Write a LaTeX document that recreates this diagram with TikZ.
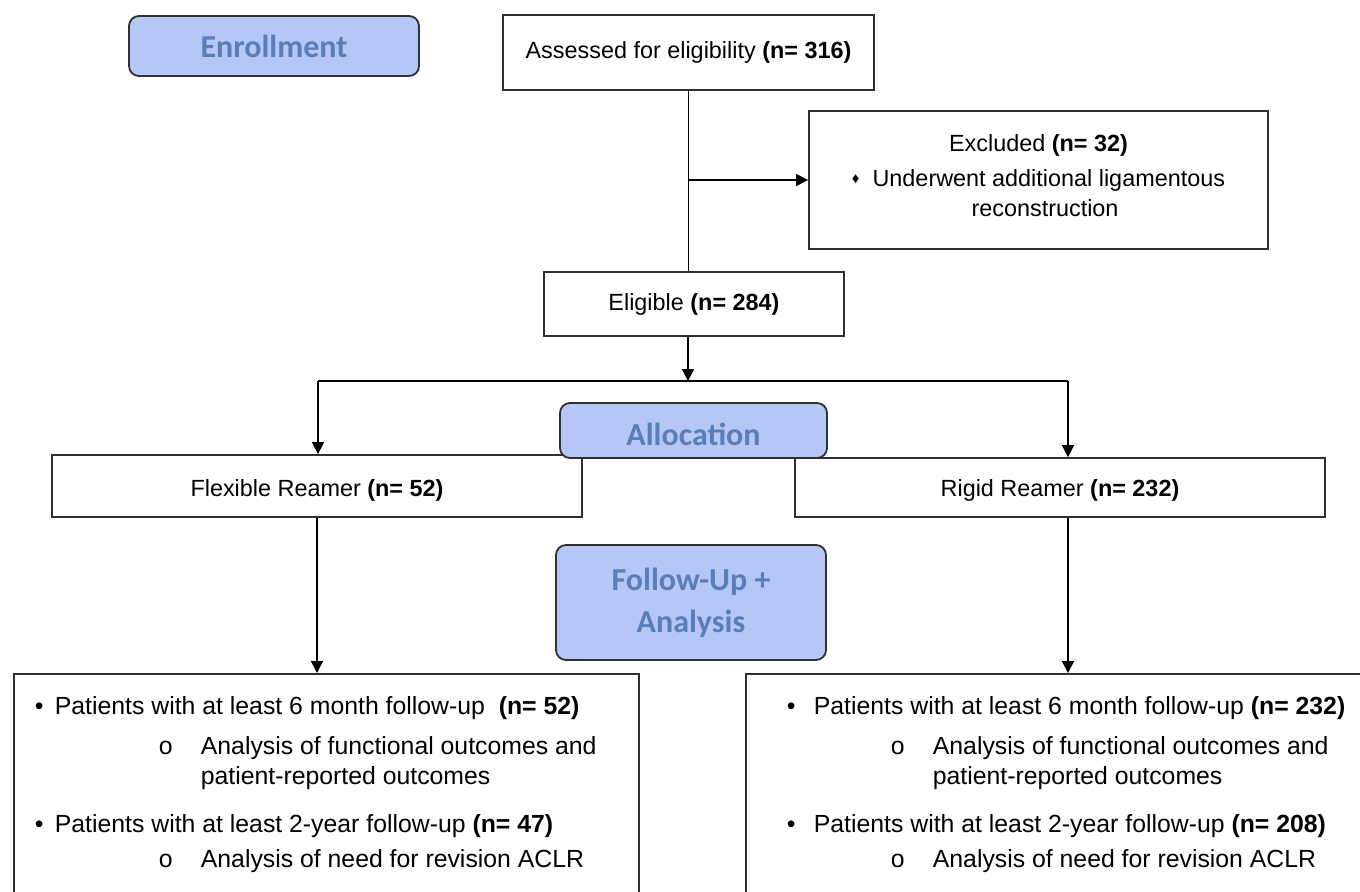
\documentclass[tikz,border=0pt]{standalone}
\usepackage{fontspec}
\setmainfont{Liberation Sans}
\newfontfamily\headfont{Carlito}
\usetikzlibrary{arrows.meta}
\definecolor{phasefill}{HTML}{B4C7F7}
\definecolor{phasetext}{HTML}{5B7DB8}
\definecolor{edgegray}{HTML}{303030}

\begin{document}
\begin{tikzpicture}
[
    x=0.5pt, y=-0.5pt,
    box/.style={draw=edgegray, line width=0.9pt, inner sep=0pt, align=center, font=\fontsize{11.7}{15}\selectfont},
    phase/.style={draw=edgegray, line width=0.9pt, rounded corners=5pt, fill=phasefill, text=phasetext, inner sep=0pt, align=center, font=\headfont\bfseries\fontsize{16}{21}\selectfont},
    fubox/.style={draw=edgegray, line width=0.9pt, inner sep=0pt, anchor=north west, font=\fontsize{12.4}{15}\selectfont},
    link/.style={line width=0.75pt},
    flowarrow/.style={line width=0.75pt, -{Triangle[length=6pt, width=6pt]}},
]
\useasboundingbox[fill=white] (0,0) rectangle (1360,891);

% enrollment
\node [phase, minimum width=145pt, minimum height=30pt] (enroll) at (274,46) {Enrollment};
\node [box, minimum width=185.5pt, minimum height=37.5pt] (assess) at (688.5,52.5)
{Assessed for eligibility \textbf{(n= 316)}};
\node [box, minimum width=229.5pt, minimum height=69pt] (excl) at (1038.5,180)
{\parbox{225pt}{\centering Excluded \textbf{(n= 32)}\\[2.5pt]
{\fontsize{7.5}{7.5}\selectfont\raisebox{1.5pt}{♦}}\ \ Underwent additional ligamentous\\
\ \ reconstruction\par\vspace{4pt}}};
\node [box, minimum width=150pt, minimum height=32pt] (elig) at (694,304)
{Eligible \textbf{(n= 284)}};

% allocation
\node [box, minimum width=265pt, minimum height=31pt] (flex) at (317,486)
{\raisebox{-2pt}[\height][\depth]{Flexible Reamer \textbf{(n= 52)}}};
\node [box, minimum width=265pt, minimum height=29.5pt] (rigid) at (1060,487.5)
{\raisebox{-1.5pt}[\height][\depth]{Rigid Reamer \textbf{(n= 232)}}};
\node [phase, minimum width=133.5pt, minimum height=27.5pt] (alloc) at (693.5,430.5)
{\raisebox{-2pt}[\height][\depth]{Allocation}};

% follow-up
\node [phase, minimum width=135pt, minimum height=57.5pt] (follow) at (691,602.5) {Follow-Up +\\Analysis};
\node [fubox] (flexfu) at (13,673)
{\parbox[t][113pt][t]{312.5pt}{\vspace*{11.3pt}%
\hspace*{10.5pt}\makebox[10pt][l]{\textbullet}Patients with at least 6 month follow-up\ \ \textbf{(n= 52)}\\[5pt]
\hspace*{72.5pt}\makebox[21pt][l]{o}Analysis of functional outcomes and\\
\hspace*{93.5pt}patient-reported outcomes\\[9pt]
\hspace*{10.5pt}\makebox[10pt][l]{\textbullet}Patients with at least 2-year follow-up \textbf{(n= 47)}\\[2.5pt]
\hspace*{72.5pt}\makebox[21pt][l]{o}Analysis of need for revision ACLR}};
\node [fubox] (rigidfu) at (745,673)
{\parbox[t][113pt][t]{312.5pt}{\vspace*{11.3pt}%
\hspace*{20.5pt}\makebox[13.5pt][l]{\textbullet}Patients with at least 6 month follow-up \textbf{(n= 232)}\\[5pt]
\hspace*{72.5pt}\makebox[21pt][l]{o}Analysis of functional outcomes and\\
\hspace*{93.5pt}patient-reported outcomes\\[9pt]
\hspace*{20.5pt}\makebox[13.5pt][l]{\textbullet}Patients with at least 2-year follow-up \textbf{(n= 208)}\\[2.5pt]
\hspace*{72.5pt}\makebox[21pt][l]{o}Analysis of need for revision ACLR}};

% connectors
\coordinate (split) at (688,381);
\coordinate (splitl) at (318,381);
\coordinate (splitr) at (1068,381);
\draw [link] (assess.south) -- (assess.south |- elig.north);
\draw [flowarrow] (assess.south |- excl.west) -- (excl.west);
\draw [flowarrow] (split |- elig.south) -- (split);
\draw [link] (splitl) -- (splitr);
\draw [line width=1.4pt] (634,381) -- (727,381);
\draw [flowarrow] (splitl) -- (splitl |- flex.north);
\draw [flowarrow] (splitr) -- (splitr |- rigid.north);
\draw [flowarrow] (flex.south) -- (flex.south |- flexfu.north);
\draw [flowarrow] (splitr |- rigid.south) -- (splitr |- rigidfu.north);
\end{tikzpicture}
\end{document}
